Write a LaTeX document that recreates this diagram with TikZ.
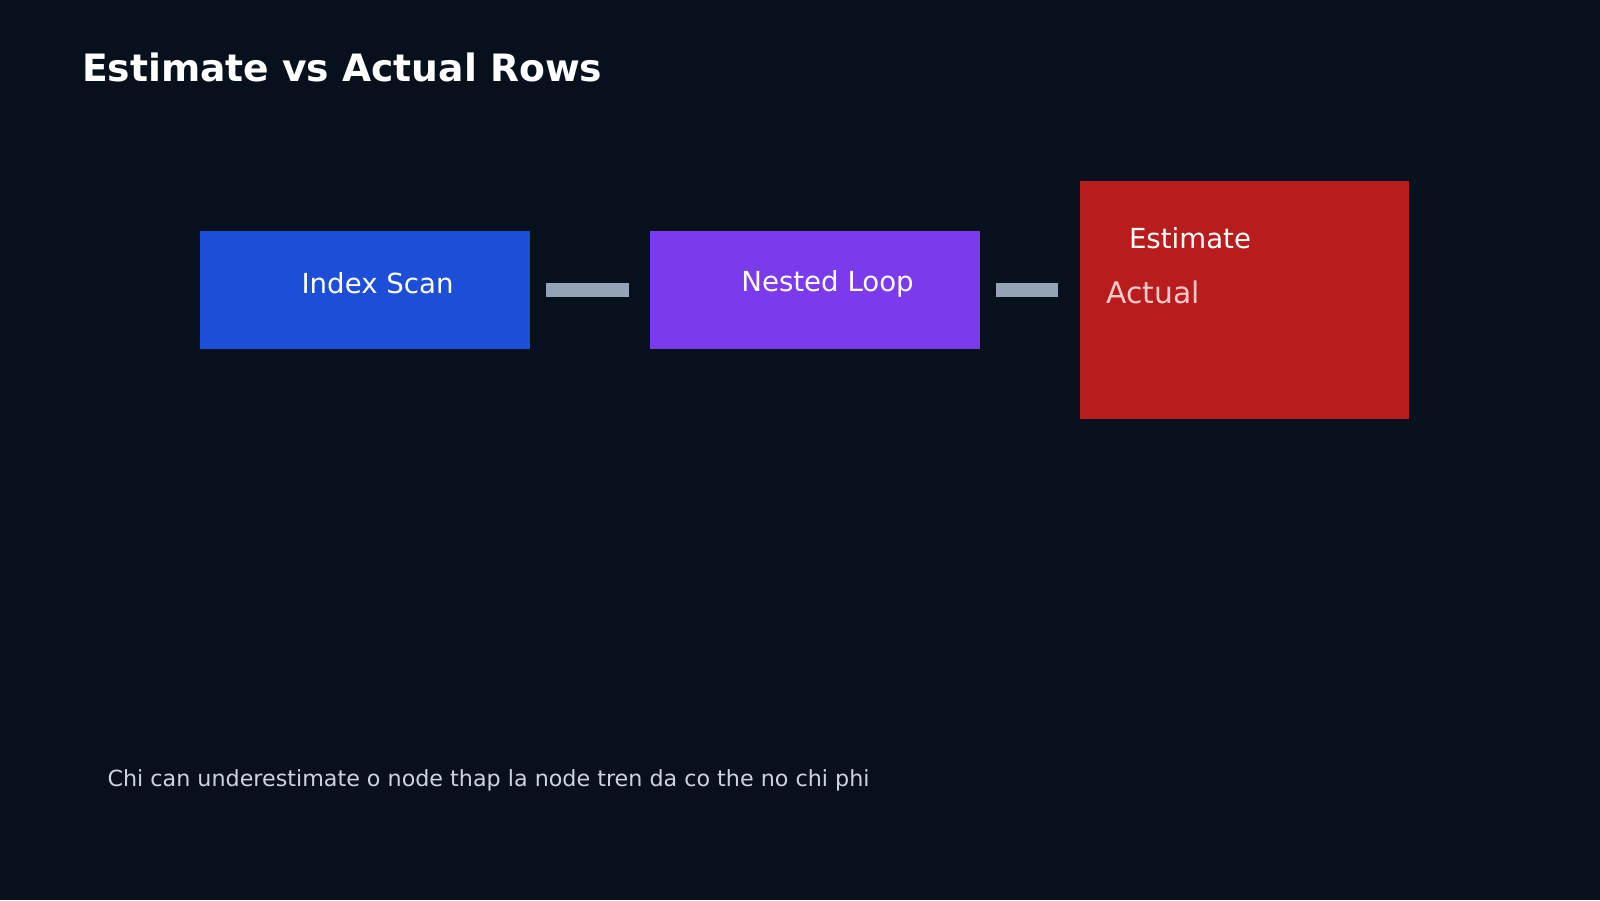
\documentclass[tikz,border=0pt]{standalone}
\usepackage{fontspec}
\setmainfont{DejaVu Sans}
\usetikzlibrary{positioning}
\definecolor{bgdark}{HTML}{07111D}
\definecolor{scanblue}{HTML}{1D4ED8}
\definecolor{loopviolet}{HTML}{7C3AED}
\definecolor{resred}{HTML}{B91C1C}
\definecolor{linkgray}{HTML}{94A3B8}
\definecolor{notegray}{HTML}{CBD5E1}
\definecolor{actpink}{HTML}{FECACA}
\tikzset{
  opbox/.style={draw=none, minimum width=3.23cm, minimum height=1.16cm, inner sep=0pt},
  oplabel/.style={text=white, font=\fontsize{7.7}{9}\selectfont},
  link/.style={linkgray, line width=0.14cm, shorten <=0.15cm, shorten >=0.2cm}
}
\begin{document}
\begin{tikzpicture}
    \fill[bgdark] (0,0) rectangle (15.68,8.82);
    \useasboundingbox (0,0) rectangle (15.68,8.82);
    % title and note
    \node[anchor=west, text=white, font=\bfseries\fontsize{10.5}{12}\selectfont] (title) at (0.68,8.16) {Estimate vs Actual Rows};
    \node[anchor=west, text=notegray, font=\fontsize{6.2}{8}\selectfont] (note) at (0.93,1.17) {Chi can underestimate o node thap la node tren da co the no chi phi};
    % plan nodes
    \node[opbox, fill=scanblue] (scan) at (3.575,5.98) {};
    \node[oplabel] (scanlbl) at (3.70,6.04) {Index Scan};
    \node[opbox, fill=loopviolet] (loop) at (7.985,5.98) {};
    \node[oplabel] (looplbl) at (8.11,6.04) {Nested Loop};
    \node[opbox, fill=resred, minimum height=2.34cm] (res) at (12.195,5.88) {};
    \node[oplabel, anchor=west] (estlbl) at (10.94,6.49) {Estimate};
    \node[anchor=west, text=actpink, font=\fontsize{8.3}{10}\selectfont] (actlbl) at (10.72,5.95) {Actual};
    % links
    \draw[link] (scan.east) -- (loop.west);
    \draw[link] (loop.east) -- (loop.east -| res.west);
\end{tikzpicture}
\end{document}
